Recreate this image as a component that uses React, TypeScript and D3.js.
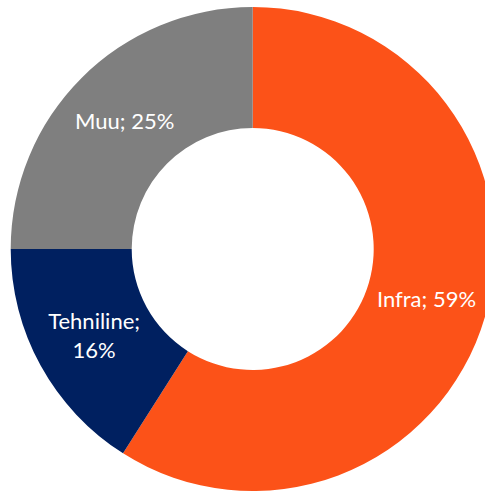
import React from "react";
import * as d3 from "d3";

const categories = ["Infra", "Tehniline", "Muu"];
const values = [59, 16, 25];
const colors = ["#FC5218", "#002060", "#7F7F7F"];

const W = 485;
const H = 491;
const CX = 252.7;
const CY = 249;
const R_OUT = 242;
const R_IN = 121;
const R_LABEL = 181;

export default function App() {
  const data = categories.map((c, i) => ({ name: c, value: values[i], color: colors[i] }));
  const pie = d3
    .pie<any>()
    .value((d) => d.value)
    .sort(null)
    .startAngle(0)
    .endAngle(2 * Math.PI);
  const arcs = pie(data);
  const arc = d3.arc<any>().innerRadius(R_IN).outerRadius(R_OUT);
  const labelArc = d3.arc<any>().innerRadius(R_LABEL).outerRadius(R_LABEL);
  const total = d3.sum(values);
  const fmt = d3.format(".0%");

  return (
    <svg
      width={W}
      height={H}
      style={{ position: "absolute", left: 0, top: 0, background: "#fff" }}
    >
      <g transform={`translate(${CX},${CY})`}>
        {arcs.map((a, i) => (
          <path key={i} d={arc(a) as string} fill={a.data.color} />
        ))}
        {arcs.map((a, i) => {
          const [x, y] = labelArc.centroid(a);
          const pct = fmt(a.data.value / total);
          const full = `${a.data.name}; ${pct}`;
          const lines = a.data.name.length > 6 ? [`${a.data.name};`, pct] : [full];
          const lh = 29;
          const y0 = y - ((lines.length - 1) * lh) / 2;
          return (
            <text
              key={"t" + i}
              x={x}
              textAnchor="middle"
              fill="#fff"
              style={{ fontFamily: "Lato, sans-serif", fontSize: 22 }}
            >
              {lines.map((l, j) => (
                <tspan key={j} x={x} y={y0 + j * lh} dy="0.35em">
                  {l}
                </tspan>
              ))}
            </text>
          );
        })}
      </g>
    </svg>
  );
}
